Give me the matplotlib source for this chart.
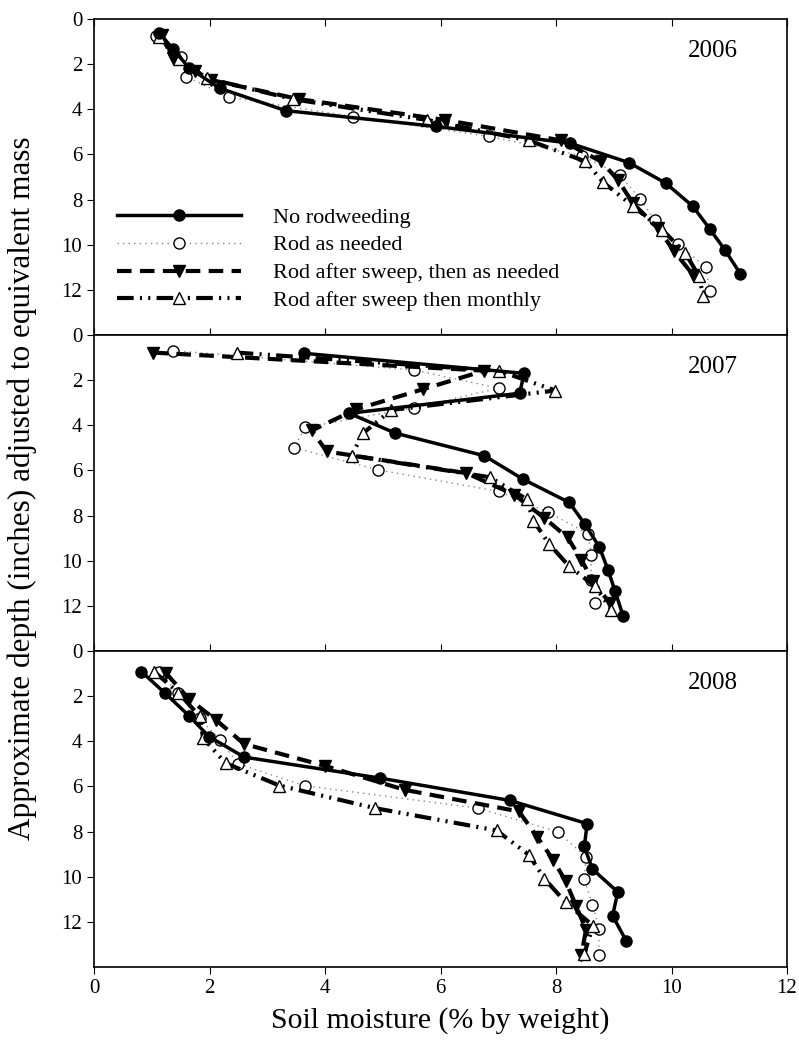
import numpy as np
import matplotlib.pyplot as plt

plt.rcParams['font.family'] = ['Liberation Serif', 'DejaVu Serif']

years = ['2006', '2007', '2008']
labels = ['No rodweeding', 'Rod as needed',
          'Rod after sweep, then as needed', 'Rod after sweep then monthly']

# soil moisture (x) and depth (y) per treatment, per year
no_rod_x = {
    '2006': [1.13, 1.37, 1.65, 2.18, 3.32, 5.93, 8.24, 9.26, 9.90, 10.37, 10.66, 10.93, 11.19],
    '2007': [3.63, 7.45, 7.37, 4.42, 5.22, 6.76, 7.43, 8.23, 8.50, 8.75, 8.90, 9.02, 9.16],
    '2008': [0.82, 1.23, 1.65, 1.99, 2.60, 4.95, 7.20, 8.54, 8.49, 8.63, 9.07, 8.98, 9.22],
}
no_rod_y = {
    '2006': [0.60, 1.34, 2.18, 3.07, 4.06, 4.76, 5.50, 6.36, 7.27, 8.30, 9.29, 10.25, 11.28],
    '2007': [0.81, 1.70, 2.58, 3.47, 4.35, 5.35, 6.39, 7.42, 8.38, 9.39, 10.40, 11.33, 12.43],
    '2008': [0.91, 1.87, 2.88, 3.79, 4.70, 5.63, 6.62, 7.65, 8.66, 9.66, 10.68, 11.73, 12.86],
}
needed_x = {
    '2006': [1.07, 1.50, 1.60, 2.34, 4.48, 6.84, 8.45, 9.10, 9.46, 9.71, 10.11, 10.59, 10.66],
    '2007': [1.37, 5.54, 7.01, 5.54, 3.66, 3.46, 4.91, 7.01, 7.86, 8.56, 8.61, 8.61, 8.67],
    '2008': [1.12, 1.46, 1.83, 2.18, 2.50, 3.65, 6.65, 8.03, 8.52, 8.49, 8.63, 8.75, 8.74],
}
needed_y = {
    '2006': [0.75, 1.67, 2.55, 3.47, 4.32, 5.20, 6.06, 6.90, 7.98, 8.92, 9.96, 10.99, 12.04],
    '2007': [0.69, 1.55, 2.36, 3.22, 4.09, 4.99, 5.97, 6.93, 7.85, 8.81, 9.73, 10.84, 11.87],
    '2008': [0.95, 1.87, 2.98, 3.94, 5.00, 5.97, 6.96, 8.01, 9.12, 10.10, 11.24, 12.31, 13.45],
}
sweep_x = {
    '2006': [1.17, 1.36, 1.75, 2.02, 3.55, 6.07, 8.09, 8.78, 9.07, 9.33, 9.76, 10.05, 10.37],
    '2007': [1.03, 6.76, 5.70, 4.54, 3.77, 4.03, 6.45, 7.28, 7.80, 8.20, 8.44, 8.64, 8.93],
    '2008': [1.25, 1.65, 2.11, 2.60, 4.00, 5.38, 7.36, 7.67, 7.95, 8.17, 8.35, 8.52, 8.44],
}
sweep_y = {
    '2006': [0.71, 1.74, 2.30, 2.70, 3.55, 4.47, 5.38, 6.31, 7.12, 8.16, 9.26, 10.30, 11.33],
    '2007': [0.78, 1.58, 2.40, 3.29, 4.23, 5.16, 6.12, 7.08, 8.11, 8.97, 9.96, 10.92, 11.87],
    '2008': [0.99, 2.14, 3.05, 4.12, 5.09, 6.15, 7.11, 8.22, 9.25, 10.21, 11.31, 12.35, 13.45],
}
monthly_x = {
    '2006': [1.13, 1.48, 1.95, 3.44, 5.76, 7.53, 8.51, 8.82, 9.34, 9.84, 10.24, 10.47, 10.55],
    '2007': [2.47, 7.02, 7.99, 5.15, 4.66, 4.46, 6.85, 7.49, 7.61, 7.88, 8.23, 8.68, 8.96],
    '2008': [1.04, 1.46, 1.83, 1.89, 2.28, 3.21, 4.86, 6.97, 7.53, 7.80, 8.17, 8.64, 8.49],
}
monthly_y = {
    '2006': [0.78, 1.78, 2.62, 3.55, 4.47, 5.38, 6.31, 7.24, 8.30, 9.34, 10.37, 11.37, 12.26],
    '2007': [0.78, 1.59, 2.46, 3.32, 4.35, 5.34, 6.30, 7.27, 8.23, 9.26, 10.25, 11.14, 12.17],
    '2008': [0.91, 1.84, 2.90, 3.86, 4.97, 5.96, 6.96, 7.95, 9.03, 10.09, 11.14, 12.17, 13.42],
}

fig = plt.figure(figsize=(7.99, 10.47), dpi=100)
left, width = 94 / 799, 693 / 799
tops = [19, 335, 651]
h = 316 / 1047

for i, yr in enumerate(years):
    ax = fig.add_axes([left, 1 - (tops[i] + 316) / 1047, width, h])
    ax.plot(needed_x[yr], needed_y[yr], color='#888888', lw=1, ls=(0, (1, 3)),
            marker='o', ms=8, mfc='white', mec='black', mew=1, label=labels[1], zorder=2)
    ax.plot(sweep_x[yr], sweep_y[yr], color='black', lw=3, ls=(0, (3.5, 2)),
            marker='v', ms=9, mfc='black', mec='black', label=labels[2], zorder=3)
    ax.plot(monthly_x[yr], monthly_y[yr], color='black', lw=3, ls=(0, (4, 1.5, 0.5, 1.5, 0.5, 1.5)),
            marker='^', ms=9, mfc='white', mec='black', mew=1, label=labels[3], zorder=4)
    ax.plot(no_rod_x[yr], no_rod_y[yr], color='black', lw=2.5, ls='-',
            marker='o', ms=8, mfc='black', mec='black', label=labels[0], zorder=5)

    ax.set_xlim(0, 12)
    ax.set_ylim(14, 0)
    ax.set_yticks(np.arange(0, 13, 2))
    ax.set_xticks(np.arange(0, 13, 2))
    ax.tick_params(axis='y', direction='out', length=5, labelsize=15, right=False)
    for s in ax.spines.values():
        s.set_linewidth(1.2)
    ax.text(0.929, 0.90, yr, transform=ax.transAxes, ha='right', va='center', fontsize=18)

    if i == 0:
        ax.tick_params(axis='x', direction='in', top=True, bottom=True,
                       labelbottom=False, length=5)
        hs, ls_ = ax.get_legend_handles_labels()
        order = [3, 0, 1, 2]
        ax.legend([hs[k] for k in order], [ls_[k] for k in order], loc='lower left',
                  bbox_to_anchor=(0.004, 0.012), frameon=False, fontsize=16,
                  handlelength=5.6, handletextpad=1.45, labelspacing=0.33)
    elif i == 1:
        ax.tick_params(axis='x', direction='in', top=False, bottom=True,
                       labelbottom=False, length=5)
    else:
        ax.tick_params(axis='x', direction='out', top=False, bottom=True,
                       labelsize=15, length=5)
        ax.set_xlabel('Soil moisture (% by weight)', fontsize=21.5, labelpad=7)

fig.text(0.028, 0.534, 'Approximate depth (inches) adjusted to equivalent mass',
         rotation=90, ha='center', va='center', fontsize=22.5)

fig.savefig('out.png', dpi=100)
